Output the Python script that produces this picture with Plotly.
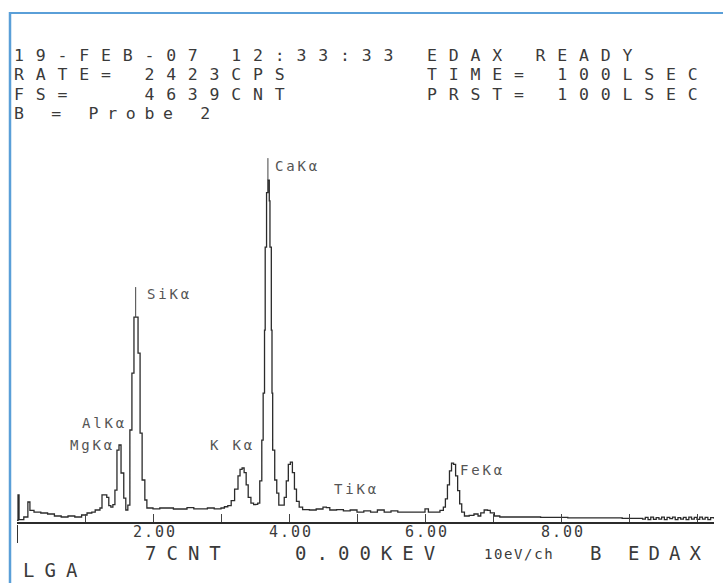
import plotly.graph_objects as go

# ---------------- data ----------------
energy_kev = [
    0.00, 0.015, 0.03, 0.10, 0.16, 0.19, 0.25, 0.35, 0.45, 0.55, 0.65, 0.75, 0.85, 0.95,
    1.03, 1.10, 1.15, 1.22, 1.25, 1.32, 1.35, 1.38, 1.41, 1.44, 1.47, 1.50, 1.53, 1.57,
    1.60, 1.63, 1.66, 1.69, 1.72, 1.75, 1.78, 1.81, 1.84, 1.88, 1.91,
    2.00, 2.10, 2.30, 2.50, 2.60, 2.80, 2.90, 3.00, 3.05, 3.10, 3.15, 3.20, 3.25, 3.28,
    3.31, 3.34, 3.37, 3.40, 3.44, 3.48, 3.51, 3.54, 3.57, 3.60, 3.62, 3.64, 3.65, 3.67,
    3.69, 3.71, 3.72, 3.74, 3.75, 3.76, 3.79, 3.82, 3.85, 3.90, 3.93, 3.96, 3.99, 4.02,
    4.05, 4.08, 4.11, 4.15, 4.20, 4.30, 4.40, 4.50, 4.55, 4.60, 4.70, 4.80, 4.90, 5.00,
    5.10, 5.20, 5.30, 5.40, 5.50, 5.60, 5.70, 5.80, 5.90, 6.00, 6.05, 6.15, 6.22, 6.27,
    6.30, 6.33, 6.36, 6.39, 6.42, 6.45, 6.48, 6.51, 6.54, 6.58, 6.65, 6.72, 6.78, 6.82,
    6.87, 6.92, 6.96, 7.02, 7.10, 7.30, 7.50, 7.70, 7.90, 8.10, 8.30, 8.50, 8.70, 8.90,
    9.10, 9.20, 9.24, 9.28, 9.32, 9.36, 9.40, 9.44, 9.48, 9.52, 9.56, 9.60, 9.64, 9.68,
    9.72, 9.76, 9.80, 9.84, 9.88, 9.92, 9.96, 10.00, 10.04, 10.08, 10.12, 10.16, 10.20, 10.25,
]
counts = [
    20, 330, 30, 61, 243, 140, 121, 109, 97, 73, 61, 73, 61, 85,
    109, 121, 146, 170, 330, 300, 200, 180, 210, 388, 874, 935, 595, 291,
    146, 206, 1117, 1809, 2489, 2489, 2052, 1080, 510, 267, 170,
    160, 170, 158, 175, 160, 170, 160, 170, 185, 200, 260, 400, 560, 640,
    656, 600, 450, 300, 230, 210, 215, 230, 500, 995, 1566, 2331, 3339, 4000,
    4152, 3900, 3339, 2331, 1566, 874, 510, 350, 206, 206, 300, 500, 700, 728,
    600, 400, 250, 180, 150, 146, 158, 180, 175, 146, 150, 134, 146, 121,
    134, 121, 146, 121, 134, 121, 121, 121, 121, 160, 121, 121, 140, 180,
    280, 450, 620, 716, 700, 560, 380, 220, 120, 73, 80, 97, 73, 110,
    146, 140, 110, 73, 61, 61, 61, 55, 55, 49, 49, 49, 49, 45,
    45, 36, 55, 30, 58, 33, 52, 36, 58, 30, 55, 40, 58, 30,
    52, 36, 55, 30, 58, 36, 55, 33, 60, 36, 55, 30, 52, 40,
]

full_scale = 4639

peak_names = ["CaKα", "SiKα", "AlKα", "MgKα", "K Kα", "TiKα", "FeKα"]
peak_label_x = [3.76, 1.88, 0.93, 0.75, 2.81, 4.63, 6.49]
peak_label_y = [4322, 2768, 1202, 935, 935, 401, 631]

marker_energy = [3.69, 1.745]
marker_bottom = [4152, 2489]
marker_top = [4419, 2853]

tick_values = [2, 4, 6, 8]
tick_labels = ["2.00", "4.00", "6.00", "8.00"]
minor_tick_values = [1, 3, 5, 7, 9, 10]

header_lines = [
    "19-FEB-07 12:33:33 EDAX READY",
    "RATE= 2423CPS      TIME= 100LSEC",
    "FS=   4639CNT      PRST= 100LSEC",
]
probe_line = "B = Probe 2"
footer_main = "7CNT   0.00KEV"
footer_small = "10eV/ch"
footer_b = "B"
footer_edax = "EDAX"
footer_last = "LGA"

# ---------------- layout geometry ----------------
W, H = 723, 583
ML, MR, MT, MB = 17, 9, 140, 61
PW, PH = W - ML - MR, H - MT - MB

def px_x(px):
    return (px - ML) / PW

def px_y(py):
    return (H - MB - py) / PH

FONT = "DejaVu Sans Mono"
TXT = "#3a3a3a"

def spaced(s, ls):
    return '<span style="letter-spacing:%.1fpx">%s</span>' % (ls, s)

def paper_text(s, x, y, size=20, ls=9.0, yanchor="middle"):
    return dict(
        text=spaced(s, ls), x=px_x(x), y=px_y(y), xref="paper", yref="paper",
        xanchor="left", yanchor=yanchor, showarrow=False, borderpad=0,
        font=dict(family=FONT, size=size, color=TXT),
    )

fig = go.Figure()
fig.add_trace(go.Scatter(
    x=energy_kev, y=counts, mode="lines", line_shape="hv",
    line=dict(color="#2b2b2b", width=1.3), hoverinfo="skip", showlegend=False,
))

HS = 16.5                      # header font size
HLS = 21.7 - 0.602 * HS        # letter spacing so that the pitch is ~21.7 px
annotations = []
header_y = [55, 74.5, 94]
for line, yy in zip(header_lines, header_y):
    annotations.append(paper_text(line, 13, yy, size=HS, ls=HLS))
annotations.append(paper_text(probe_line, 13, 113.5, size=HS, ls=18.6 - 0.602 * HS))
annotations.append(paper_text(footer_main, 144, 553, size=19, ls=21.4 - 0.602 * 19))
annotations.append(paper_text(footer_small, 483, 554, size=14, ls=1.6))
annotations.append(paper_text(footer_b, 589, 553, size=19, ls=0))
annotations.append(paper_text(footer_edax, 627, 553, size=19, ls=20.5 - 0.602 * 19))
annotations.append(paper_text(footer_last, 22, 582, size=19, ls=21.4 - 0.602 * 19,
                              yanchor="bottom"))

for name, lx, ly in zip(peak_names, peak_label_x, peak_label_y):
    annotations.append(dict(
        text=spaced(name, 2.8), x=lx, y=ly, xref="x", yref="y",
        xanchor="left", yanchor="middle", showarrow=False,
        font=dict(family=FONT, size=14, color="#555555"),
    ))

shapes = []
for e, b, t in zip(marker_energy, marker_bottom, marker_top):
    shapes.append(dict(type="line", xref="x", yref="y", x0=e, x1=e, y0=b, y1=t,
                       line=dict(color="#444444", width=1)))
shapes.append(dict(type="line", xref="x", yref="paper", x0=0, x1=0,
                   y0=px_y(543), y1=px_y(525), line=dict(color="#333333", width=2)))
shapes.append(dict(type="line", xref="paper", yref="paper", x0=px_x(9), x1=px_x(724),
                   y0=px_y(13), y1=px_y(13), line=dict(color="#5a9fd8", width=2)))
shapes.append(dict(type="line", xref="paper", yref="paper", x0=px_x(10), x1=px_x(10),
                   y0=px_y(12), y1=px_y(584), line=dict(color="#5a9fd8", width=2.5)))

fig.update_layout(
    width=W, height=H, autosize=False,
    margin=dict(l=ML, r=MR, t=MT, b=MB, pad=0),
    paper_bgcolor="white", plot_bgcolor="white",
    showlegend=False,
    annotations=annotations, shapes=shapes,
    xaxis=dict(
        range=[0, PW / 68.0], showgrid=False, zeroline=False,
        showline=True, linecolor="#2b2b2b", linewidth=2,
        tickmode="array", tickvals=tick_values,
        ticktext=[spaced(t, 2.0) for t in tick_labels],
        ticks="inside", ticklen=8, tickwidth=1.2, tickcolor="#444444",
        ticklabelshift=2, ticklabelstandoff=-5,
        tickfont=dict(family=FONT, size=15, color=TXT),
        minor=dict(tickmode="array", tickvals=minor_tick_values, ticks="inside",
                   ticklen=8, tickwidth=1.2, tickcolor="#444444", showgrid=False),
        fixedrange=True,
    ),
    yaxis=dict(
        range=[0, full_scale], visible=False, showgrid=False, zeroline=False,
        fixedrange=True,
    ),
)

fig.write_html("out.html")
